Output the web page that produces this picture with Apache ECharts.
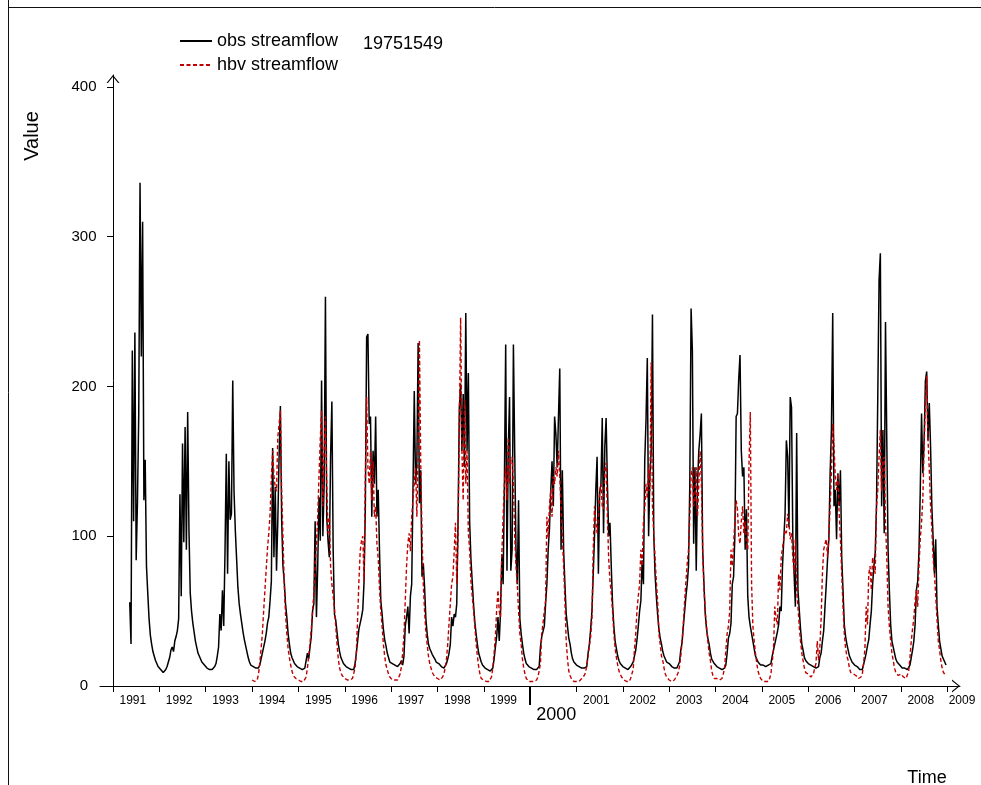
<!DOCTYPE html>
<html>
<head>
<meta charset="utf-8">
<script src="https://cdn.jsdelivr.net/npm/echarts@6/dist/echarts.min.js"></script>
<style>
  html, body { margin: 0; padding: 0; background: #ffffff; }
  #chart { width: 981px; height: 785px; }
</style>
</head>
<body>
<div id="chart"></div>
<script>
// Daily streamflow, summarised as 36 readings per year (about every 10 days).
// Index i of a yearly array sits at year + i / 36.
const obs1991 = [null,null,null,null,null,null,null,null,null,null,null,null,null,56,28,224,110,236,84,123,182,336,220,310,124,151,80,62,45,34,28,23,20,17,15,13];
const obs1992 = [12,11,10,9,9,11,13,16,19,24,26,23,30,33,37,45,128,60,162,96,173,91,183,104,62,50,42,36,30,26,22,20,18,16,15,14];
const obs1993 = [13,12,12,11,11,11,12,13,15,20,26,48,37,64,40,90,155,75,150,111,115,204,130,104,85,66,55,48,42,36,31,27,23,19,16,14];
const obs1994 = [13,13,12,12,12,12,14,18,22,26,30,35,42,46,57,70,159,86,133,77,110,153,187,111,80,70,55,46,35,28,22,19,17,15,14,13];
const obs1995 = [12,12,11,11,11,12,13,22,18,26,33,50,55,110,46,80,126,97,204,100,135,260,113,97,86,153,190,91,48,44,36,28,23,19,17,15];
const obs1996 = [14,13,13,12,11,11,12,11,15,22,30,38,42,46,51,70,120,233,235,175,180,113,157,135,180,113,131,90,57,48,38,31,27,22,19,16];
const obs1997 = [15,15,14,14,13,13,13,15,17,14,20,40,46,53,35,60,68,131,197,135,149,229,122,144,73,82,66,45,35,28,25,23,21,20,18,16];
const obs1998 = [16,15,14,13,12,12,13,15,18,22,28,46,40,48,46,55,110,186,202,157,195,146,249,157,209,110,85,70,55,43,35,28,22,19,16,14];
const obs1999 = [13,12,11,11,10,10,10,12,18,26,33,46,30,50,88,68,135,228,77,157,193,77,91,228,157,91,68,124,45,35,28,22,18,15,14,13];
const obs2000 = [12,12,12,11,11,11,12,13,26,33,33,40,55,68,91,105,130,150,120,180,168,146,180,212,91,144,91,68,48,40,32,28,22,18,16,15];
const obs2001 = [14,14,13,13,12,12,12,12,13,22,28,38,50,75,100,131,153,75,129,135,179,102,160,179,135,100,109,80,55,40,30,25,20,17,15,14];
const obs2002 = [13,12,12,11,11,12,13,14,16,20,24,31,40,50,57,84,68,150,178,219,100,140,157,248,102,75,60,48,38,32,28,23,20,18,16,15];
const obs2003 = [15,14,13,13,12,12,12,13,16,24,29,40,50,60,68,80,135,252,224,95,146,77,135,157,168,182,91,68,48,38,32,28,22,18,17,15];
const obs2004 = [14,13,12,12,12,11,11,12,14,22,32,35,42,68,73,100,180,182,205,221,157,140,146,91,118,60,46,40,35,30,25,20,18,16,15,14];
const obs2005 = [14,14,13,13,13,14,14,15,20,19,28,28,36,41,53,50,80,98,115,164,153,106,193,186,100,75,53,169,64,51,38,28,24,19,17,16];
const obs2006 = [15,14,14,13,13,12,12,12,13,19,22,30,37,53,68,85,98,142,171,249,120,131,98,142,120,144,86,64,41,33,28,24,20,18,16,15];
const obs2007 = [14,14,13,12,11,11,11,11,18,22,27,31,41,50,68,80,89,120,193,271,289,120,171,102,243,164,91,64,41,30,26,22,18,16,15,14];
const obs2008 = [13,12,12,12,11,11,12,14,19,24,30,41,64,70,90,130,182,142,164,204,210,164,189,160,120,98,75,98,53,41,30,25,20,18,16,14];

const hbv1994 = [4,3,3,3,4,8,15,25,35,50,64,78,92,102,115,139,157,140,133,130,166,175,184,130,100,68,48,35,25,19,14,10,7,6,5,4];
const hbv1995 = [4,3,3,3,3,4,6,12,20,28,38,50,62,80,95,113,140,165,184,120,157,180,135,102,113,80,68,60,52,40,28,18,12,9,7,6];
const hbv1996 = [5,4,4,4,4,4,5,6,12,22,45,70,90,97,100,70,140,193,146,135,157,124,150,113,120,95,85,65,50,40,28,20,14,11,8,6];
const hbv1997 = [5,4,4,4,4,4,5,8,13,22,35,57,80,95,102,90,113,125,135,146,113,157,231,150,102,68,50,36,28,20,15,12,9,8,6,5];
const hbv1998 = [5,4,4,5,6,8,12,18,28,42,55,68,73,90,109,68,102,175,246,157,124,191,135,157,102,91,70,60,51,40,29,20,13,8,5,4];
const hbv1999 = [4,3,3,3,3,4,6,12,22,33,51,64,50,46,88,113,135,146,124,166,135,150,153,135,100,80,68,50,35,28,18,12,8,5,4,3];
const hbv2000 = [3,3,3,3,4,4,6,10,15,35,42,50,57,113,99,120,131,113,140,135,146,140,157,140,120,100,80,57,30,18,10,7,5,4,3,3];
const hbv2001 = [3,3,3,4,5,6,7,9,14,20,27,33,45,91,120,110,102,113,130,135,120,118,144,149,113,85,70,62,50,35,25,19,14,10,8,6];
const hbv2002 = [5,4,4,3,3,3,5,8,11,24,35,51,60,68,91,80,110,118,135,125,146,130,216,120,102,86,70,57,35,28,20,17,12,8,6,5];
const hbv2003 = [4,3,3,3,4,4,7,9,13,20,30,42,57,70,82,91,113,140,146,120,124,146,113,135,157,135,90,65,50,40,30,22,17,10,7,5];
const hbv2004 = [5,5,4,4,4,5,8,12,24,35,40,50,91,80,95,110,124,118,100,95,110,120,102,110,95,91,149,183,68,40,30,22,15,10,7,5];
const hbv2005 = [4,3,3,3,3,3,5,8,16,24,53,45,41,75,64,86,92,98,104,102,115,109,98,102,86,75,98,64,53,40,30,22,17,12,9,8];
const hbv2006 = [8,7,6,6,8,12,15,30,17,26,45,75,91,95,98,86,100,120,142,175,160,140,131,142,115,98,75,53,35,25,20,17,12,9,8,8];
const hbv2007 = [8,7,6,5,5,6,8,15,25,53,41,75,80,64,86,80,75,120,131,153,171,130,150,153,109,86,53,40,30,22,17,12,9,8,7,6];
const hbv2008 = [8,7,6,6,5,5,10,19,30,38,45,57,64,53,80,98,109,125,160,190,207,165,145,120,105,85,75,60,45,30,24,17,12,9,8,null];

const obsYearly = [obs1991, obs1992, obs1993, obs1994, obs1995, obs1996, obs1997, obs1998, obs1999,
                   obs2000, obs2001, obs2002, obs2003, obs2004, obs2005, obs2006, obs2007, obs2008];
const hbvYearly = [hbv1994, hbv1995, hbv1996, hbv1997, hbv1998, hbv1999, hbv2000, hbv2001,
                   hbv2002, hbv2003, hbv2004, hbv2005, hbv2006, hbv2007, hbv2008];

const seriesNames = ['obs streamflow', 'hbv streamflow'];
const gaugeId = '19751549';
const yearTicks = [1991,1992,1993,1994,1995,1996,1997,1998,1999,2000,2001,2002,2003,2004,2005,2006,2007,2008,2009];
const bigYear = 2000;
const valueTicks = [0, 100, 200, 300, 400];

const STEPS = 36;
function toPairs(firstYear, yearly) {
  const out = [];
  yearly.forEach((arr, k) => {
    arr.forEach((v, i) => {
      if (v != null) out.push([firstYear + k + i / STEPS, v]);
    });
  });
  return out;
}
const obsData = toPairs(1991, obsYearly);
const hbvData = toPairs(1994, hbvYearly);

const FONT = '"Liberation Sans", Arial, Helvetica, sans-serif';
const X_MIN = 1990.7195, X_MAX = 2009.274;
// open arrow head drawn at the end of each axis line
const ARROW = 'path://M0,8L6.5,0L13,8L11.6,8L6.5,1.7L1.4,8Z';

// year labels start just right of each year tick; the last one hugs its tick
const yearLabelPos = yearTicks.filter(y => y !== bigYear).map(y => y + (y === 2009 ? 0.03 : 0.14));

const chart = echarts.init(document.getElementById('chart'), null, { renderer: 'canvas' });
chart.setOption({
  animation: false,
  backgroundColor: '#ffffff',
  textStyle: { fontFamily: FONT },
  title: {
    text: gaugeId,
    left: 363, top: 35, padding: 0,
    textStyle: { fontSize: 18, fontWeight: 'normal', color: '#000', fontFamily: FONT }
  },
  legend: {
    data: seriesNames,
    orient: 'vertical',
    left: 179, top: 32, padding: 0,
    itemWidth: 32, itemHeight: 14, itemGap: 6,
    itemStyle: { opacity: 0 },
    textStyle: { fontSize: 18, color: '#000', fontFamily: FONT, padding: [5, 0, 0, 0] }
  },
  grid: { left: 100, right: 21, top: 75, bottom: 99, containLabel: false, outerBoundsMode: 'none' },
  xAxis: [{
    type: 'value', min: X_MIN, max: X_MAX, position: 'bottom',
    axisLine: { show: true, onZero: false, symbol: ['none', ARROW], symbolSize: [13, 8], symbolOffset: [0, -4],
                lineStyle: { color: '#000', width: 1 } },
    axisTick: { show: true, customValues: yearTicks, length: 6, lineStyle: { color: '#000', width: 1 } },
    axisLabel: { show: true, customValues: yearLabelPos, align: 'left', margin: 9, fontSize: 12, color: '#000',
                 fontFamily: FONT, showMinLabel: true, showMaxLabel: true,
                 formatter: v => String(Math.floor(v + 1e-6)) },
    splitLine: { show: false }
  }, {
    type: 'value', min: X_MIN, max: X_MAX, position: 'bottom',
    axisLine: { show: false, onZero: false },
    axisTick: { show: true, customValues: [bigYear], length: 19, lineStyle: { color: '#000', width: 2 } },
    axisLabel: { show: true, customValues: [bigYear + 0.13], align: 'left', margin: 20, fontSize: 18, color: '#000',
                 fontFamily: FONT, showMinLabel: true, showMaxLabel: true,
                 formatter: v => String(Math.floor(v + 1e-6)) },
    splitLine: { show: false }
  }],
  yAxis: {
    type: 'value', min: 0, max: 408, position: 'left', offset: -13,
    axisLine: { show: true, onZero: false, symbol: ['none', ARROW], symbolSize: [13, 8], symbolOffset: [0, -4],
                lineStyle: { color: '#000', width: 1 } },
    axisTick: { show: true, customValues: valueTicks, length: 6, lineStyle: { color: '#000', width: 1 } },
    axisLabel: { show: true, customValues: valueTicks, align: 'center', margin: 29, fontSize: 15, color: '#000',
                 fontFamily: FONT, showMinLabel: true, showMaxLabel: true },
    splitLine: { show: false }
  },
  series: [{
    name: seriesNames[0],
    type: 'line',
    xAxisIndex: 0,
    data: obsData,
    symbol: 'none',
    sampling: null,
    lineStyle: { color: '#000000', width: 1.5 },
    itemStyle: { color: '#000000' },
    z: 2
  }, {
    name: seriesNames[1],
    type: 'line',
    xAxisIndex: 0,
    data: hbvData,
    symbol: 'none',
    lineStyle: { color: '#c00000', width: 1.4, type: [4, 2.5] },
    itemStyle: { color: '#c00000' },
    z: 3
  }],
  graphic: [
    { type: 'line', shape: { x1: 8.5, y1: 0, x2: 8.5, y2: 785 }, style: { stroke: '#111', lineWidth: 1 }, silent: true },
    { type: 'line', shape: { x1: 8, y1: 7.5, x2: 981, y2: 7.5 }, style: { stroke: '#111', lineWidth: 1 }, silent: true },
    { type: 'text', x: 32, y: 136, rotation: Math.PI / 2,
      style: { text: 'Value', font: '20px ' + FONT, fill: '#000', textAlign: 'center', textVerticalAlign: 'middle' } },
    { type: 'text', x: 927, y: 778,
      style: { text: 'Time', font: '18px ' + FONT, fill: '#000', textAlign: 'center', textVerticalAlign: 'middle' } }
  ]
});
</script>
</body>
</html>
